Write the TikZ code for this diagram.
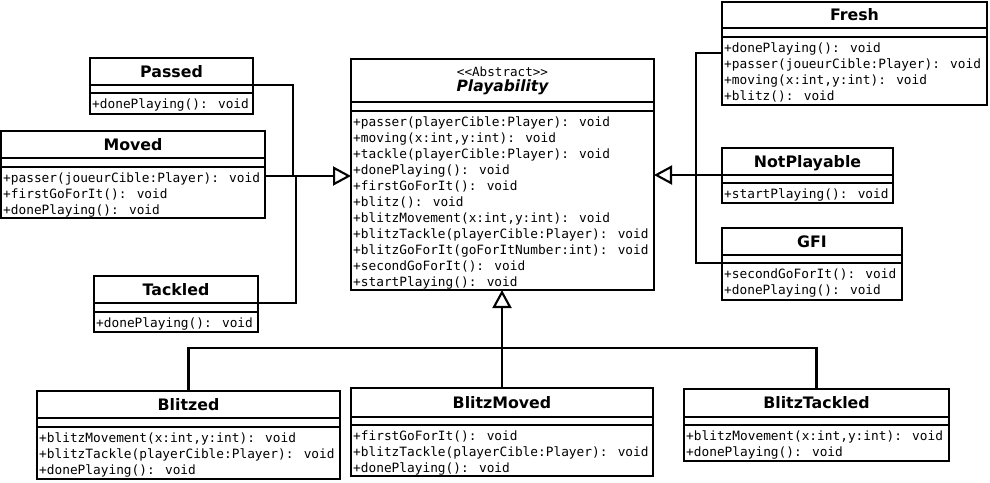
\documentclass[tikz,border=0pt]{standalone}
\usepackage{fontspec}
\newfontfamily\monof{DejaVu Sans Mono}
\newfontfamily\sansf{DejaVu Sans}
\usetikzlibrary{arrows.meta,calc}
\tikzset{
  lw/.style={line width=2.1pt},
  cls/.style={draw, lw, rectangle, anchor=north west, inner sep=0pt, outer sep=0pt},
  ttl/.style={font=\sansf\bfseries\fontsize{15.8}{18}\selectfont, text height=11.5pt, text depth=0pt},
  meth/.style={anchor=base west, inner sep=0pt, font=\monof\fontsize{12.8}{16}\selectfont},
  conn/.style={lw},
  inh/.style={lw, -{Triangle[open, length=18pt, width=19pt]}},
}
\newcommand\umlbox[9]{%
  \node[cls, minimum width={#4pt-#2pt}, minimum height={#7pt-#3pt}] (#1) at (#2,#3) {};
  \node[cls, ttl, minimum width={#4pt-#2pt}, minimum height={#5pt-#3pt}] (#1T) at (#2,#3) {#8};
  \node[cls, minimum width={#4pt-#2pt}, minimum height={#6pt-#5pt}] (#1A) at (#2,#5) {};
  \foreach \m [count=\i] in {#9} {\node[meth] (#1M\i) at (#2+2, #6-1+16*\i) {\m};}
}
\begin{document}
\begin{tikzpicture}[x=1pt, y=-1pt]
\useasboundingbox (0,0) rectangle (990,482);
% left
\umlbox{passed}{90}{58}{253}{85}{93}{114}{Passed}{{+donePlaying(): void}}
\umlbox{moved}{1}{131}{265}{158}{167}{218}{Moved}{{+passer(joueurCible:Player): void},{+firstGoForIt(): void},{+donePlaying(): void}}
\umlbox{tackled}{94}{276}{258}{303}{312}{332}{Tackled}{{+donePlaying(): void}}
% centre
\umlbox{playability}{351}{59}{654}{102}{111}{290}{}{{+passer(playerCible:Player): void},{+moving(x:int,y:int): void},{+tackle(playerCible:Player): void},{+donePlaying(): void},{+firstGoForIt(): void},{+blitz(): void},{+blitzMovement(x:int,y:int): void},{+blitzTackle(playerCible:Player): void},{+blitzGoForIt(goForItNumber:int): void},{+secondGoForIt(): void},{+startPlaying(): void}}
\node[inner sep=0pt, font=\monof\fontsize{12.6}{15}\selectfont] (stereo) at (502.5,71.5) {{<}{<}Abstract{>}{>}};
\node[inner sep=0pt, font=\sansf\bfseries\itshape\fontsize{15.5}{18}\selectfont] (playname) at (502.5,87.5) {Playability};
% right
\umlbox{fresh}{722}{2}{987}{28}{37}{105}{Fresh}{{+donePlaying(): void},{+passer(joueurCible:Player): void},{+moving(x:int,y:int): void},{+blitz(): void}}
\umlbox{notplayable}{722}{148}{893}{175}{183}{203}{NotPlayable}{{+startPlaying(): void}}
\umlbox{gfi}{722}{228}{902}{255}{263}{300}{GFI}{{+secondGoForIt(): void},{+donePlaying(): void}}
% bottom
\umlbox{blitzed}{37}{391}{340}{418}{427}{479}{Blitzed}{{+blitzMovement(x:int,y:int): void},{+blitzTackle(playerCible:Player): void},{+donePlaying(): void}}
\umlbox{blitzmoved}{351}{388}{653}{417}{425}{476}{BlitzMoved}{{+firstGoForIt(): void},{+blitzTackle(playerCible:Player): void},{+donePlaying(): void}}
\umlbox{blitztackled}{684}{389}{949}{417}{425}{461}{BlitzTackled}{{+blitzMovement(x:int,y:int): void},{+donePlaying(): void}}
% connectors left
\coordinate (jP) at (293,176);
\coordinate (jT) at (296,176);
\draw[conn] (passedT.south east) -| (jP);
\draw[conn] (tackledT.south east) -| (jT);
\draw[inh] (moved.east |- jP) -- (playability.west |- jP);
% connectors right
\coordinate (jR) at (696,175);
\draw[conn] ($(fresh.north west)+(0,51)$) -| (jR) |- (gfiA.south west);
\draw[inh] (notplayableT.south west) -- (playability.east |- notplayableT.south west);
% connectors bottom
\coordinate (jB) at (502,348);
\draw[inh] (blitzmoved.north) -- (blitzmoved.north |- playability.south);
\draw[conn] (blitzed.north) |- (jB) -| (blitztackled.north);
\end{tikzpicture}
\end{document}
